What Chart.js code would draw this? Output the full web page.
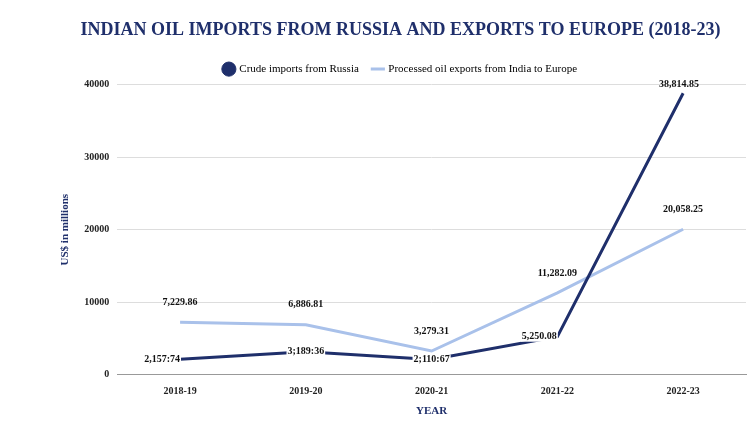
<!DOCTYPE html><html><head><script src="https://cdn.jsdelivr.net/npm/chart.js@4"></script>
<style>body{margin:0;background:#fff}#w{width:750px;height:426px}</style></head><body><div id="w"><canvas id="c"></canvas></div>
<script>
const categories=["2018-19","2019-20","2020-21","2021-22","2022-23"];
const russia=[2157.74,3189.36,2110.67,5250.08,38814.85];
const europe=[7229.86,6886.81,3279.31,11282.09,20058.25];
const russiaLabels=["2,157:74","3;189:36","2;110:67","5,250.08","38,814.85"];
const europeLabels=["7,229.86","6,886.81","3,279.31","11,282.09","20,058.25"];
const F="'Liberation Serif', serif";
const lab={id:'lab',afterDatasetsDraw(ch){const c=ch.ctx;c.save();c.font="bold 10px "+F;c.textAlign="center";c.textBaseline="middle";
ch.getDatasetMeta(1).data.forEach((p,i)=>{c.fillStyle="#111";c.fillText(europeLabels[i],p.x,p.y-20);});
ch.getDatasetMeta(0).data.forEach((p,i)=>{let dy=i==4?-9:0;let dx=[-18,0,0,-18,-4][i];const t=russiaLabels[i];
if(i<4){const w=c.measureText(t).width;c.fillStyle="#fff";c.fillRect(p.x+dx-w/2-1,p.y+dy-5,w+2,10);}
c.fillStyle="#111";c.fillText(t,p.x+dx,p.y+dy);});c.restore();}};
new Chart(document.getElementById('c'),{type:'line',data:{labels:categories,datasets:[
{label:'Crude imports from Russia',data:russia,borderColor:'#1f2f6b',backgroundColor:'#1f2f6b',borderWidth:3,pointRadius:0,tension:0},
{label:'Processed oil exports from India to Europe',data:europe,borderColor:'#a9c1ea',backgroundColor:'#a9c1ea',borderWidth:3,pointRadius:0,tension:0}]},
options:{responsive:true,maintainAspectRatio:false,animation:false,layout:{padding:{left:55,right:4,top:8,bottom:4}},
plugins:{title:{display:true,text:'INDIAN OIL IMPORTS FROM RUSSIA AND EXPORTS TO EUROPE (2018-23)',color:'#1f2f6b',font:{family:F,size:18,weight:'bold'},padding:{top:12,bottom:8}},
legend:{labels:{color:'#333',font:{family:F,size:11},usePointStyle:true,boxWidth:10,boxHeight:10,padding:14,generateLabels(ch){return ch.data.datasets.map((d,i)=>({text:d.label,fillStyle:d.borderColor,strokeStyle:d.borderColor,pointStyle:i==0?'circle':'line',lineWidth:i==0?1:3,datasetIndex:i}));}}},tooltip:{enabled:false}},
scales:{x:{offset:true,grid:{display:false},border:{color:'#999'},ticks:{color:'#222',font:{family:F,size:10,weight:'bold'}},title:{display:true,text:'YEAR',color:'#1f2f6b',font:{family:F,size:11,weight:'bold'}}},
y:{min:0,max:40000,ticks:{stepSize:10000,callback:v=>String(v),color:'#222',font:{family:F,size:10,weight:'bold'},padding:8},grid:{color:'#ddd',drawTicks:false},border:{display:false},title:{display:true,text:'US$ in millions',color:'#1f2f6b',font:{family:F,size:11,weight:'bold'},padding:{bottom:4}}}}},plugins:[lab]});
</script></body></html>
